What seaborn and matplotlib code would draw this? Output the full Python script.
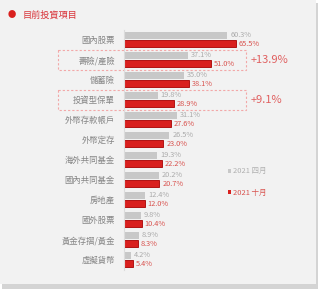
import pandas as pd
import seaborn as sns
import matplotlib.pyplot as plt
import matplotlib.transforms as mtransforms
from matplotlib.patches import Rectangle

# 資料
categories = ['國內股票', '壽險/產險', '儲蓄險', '投資型保單', '外幣存款帳戶', '外幣定存',
              '海外共同基金', '國內共同基金', '房地產', '國外股票', '黃金存摺/黃金', '虛擬貨幣']
april = [60.3, 37.1, 35.0, 19.8, 31.1, 26.5, 19.3, 20.2, 12.4, 9.8, 8.9, 4.2]
october = [65.5, 51.0, 38.1, 28.9, 27.6, 23.0, 22.2, 20.7, 12.0, 10.4, 8.3, 5.4]
series = ['2021 四月', '2021 十月']
highlight_rows = ['壽險/產險', '投資型保單']
highlight_text = ['+13.9%', '+9.1%']

df = pd.DataFrame({
    'item': categories * 2,
    'pct': april + october,
    'period': [series[0]] * len(categories) + [series[1]] * len(categories),
})

plt.rcParams['font.family'] = ['Noto Sans CJK TC', 'DejaVu Sans']

fig = plt.figure(figsize=(3.2, 2.89), dpi=100)
fig.patch.set_facecolor('white')

# 背景面板與陰影
fig.patches.append(Rectangle((2 / 320, 0.0), 316 / 320, 1 - 3 / 289, transform=fig.transFigure,
                             facecolor='#d4d4d4', edgecolor='none', zorder=-3))
fig.patches.append(Rectangle((0, 5 / 289), 316 / 320, 1 - 5 / 289, transform=fig.transFigure,
                             facecolor='#f2f2f2', edgecolor='none', zorder=-2))

ax = fig.add_axes([124 / 320, 1 - 269.5 / 289, 192 / 320, 240 / 289])
ax.set_facecolor('none')

gray = '#c8c8c8'
red = '#d9201e'
sns.barplot(data=df, y='item', x='pct', hue='period', order=categories, hue_order=series,
            palette=[gray, red], width=0.85, gap=0.12, orient='h', ax=ax, saturation=1)

# 紅色長條加深色邊框
for bar in ax.containers[1]:
    bar.set_edgecolor('#a80000')
    bar.set_linewidth(0.6)

ax.bar_label(ax.containers[0], labels=[f'{v:.1f}%' for v in april], padding=2,
             fontsize=5.3, color='#ababab')
ax.bar_label(ax.containers[1], labels=[f'{v:.1f}%' for v in october], padding=2,
             fontsize=5.3, color='#d9534f')

ax.set_xlim(0, 112)
ax.set_ylim(11.5, -0.5)
ax.set_xlabel('')
ax.set_ylabel('')
ax.set_xticks([])
ax.tick_params(axis='y', length=0, pad=6.5, labelsize=6, labelcolor='#858585')
for s in ['top', 'right', 'bottom']:
    ax.spines[s].set_visible(False)
ax.spines['left'].set_color('#dcdcdc')
ax.spines['left'].set_linewidth(0.8)

# 圖例
leg = ax.legend(loc='upper left', bbox_to_anchor=(100 / 192, 1 - 134 / 240), frameon=False,
                fontsize=5.4, handlelength=0.45, handleheight=0.45, handletextpad=0.3,
                labelspacing=1.8, borderpad=0)
for t, c in zip(leg.get_texts(), ['#b0b0b0', '#d9534f']):
    t.set_color(c)

# 虛線框與增幅
trans = mtransforms.blended_transform_factory(fig.transFigure, ax.transData)
for name, txt in zip(highlight_rows, highlight_text):
    i = categories.index(name)
    ax.add_patch(Rectangle((58 / 320, i - 0.5), 188 / 320, 1.0, transform=trans,
                           fill=False, edgecolor='#f2a8a8', linestyle=(0, (2, 1.8)),
                           linewidth=0.8, clip_on=False))
    ax.text(251 / 320, i, txt, transform=trans, fontsize=8, color='#e06060',
            ha='left', va='center')

# 標題
fig.text(12 / 320, 1 - 15 / 289, '●', fontsize=6, color='#d9201e', ha='center', va='center')
fig.text(23 / 320, 1 - 15 / 289, '目前投資項目', fontsize=6.6, color='#d9343a',
         ha='left', va='center')

fig.savefig('out.png', dpi=100, facecolor=fig.get_facecolor())
